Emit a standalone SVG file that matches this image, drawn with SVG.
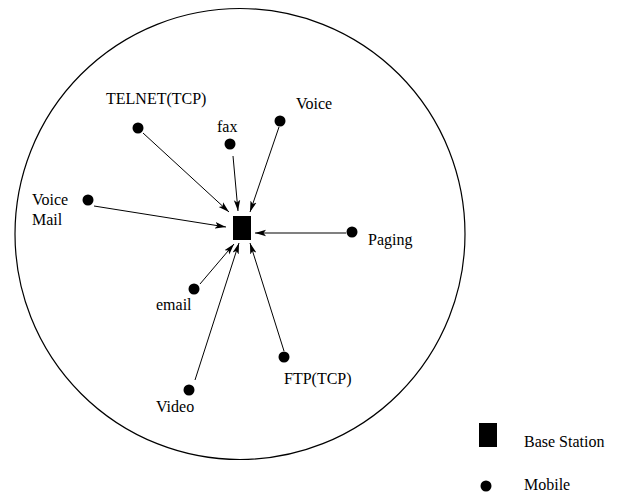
<svg xmlns="http://www.w3.org/2000/svg" width="618" height="495" viewBox="0 0 618 495">
<style>
text{font-family:"Liberation Serif","Times New Roman",serif;font-size:16px;fill:#000}
.c{stroke:#000;stroke-width:1;fill:none}
.g{stroke:#808080;stroke-width:2;fill:none}
.dot{fill:#000}
</style>
<defs>
<marker id="ah" markerUnits="userSpaceOnUse" markerWidth="12" markerHeight="8" refX="11" refY="4" orient="auto">
<path d="M0,0.8 L11,4 L0,7.2 L2.5,4 z" fill="#000"/>
</marker>
</defs>
<rect width="618" height="495" fill="#fff"/>
<ellipse id="cell" cx="240" cy="234" rx="225" ry="225.5" fill="none" stroke="#000" stroke-width="1.2"/>
<g id="connectors">
<line class="c" x1="143" y1="133" x2="229" y2="212" marker-end="url(#ah)"/>
<line class="c" x1="233" y1="156" x2="238" y2="211" marker-end="url(#ah)"/>
<line class="c" x1="279" y1="127" x2="250" y2="212" marker-end="url(#ah)"/>
<line class="c" x1="94" y1="206" x2="226" y2="227" marker-end="url(#ah)"/>
<line class="g" x1="346" y1="233" x2="255" y2="233" marker-end="url(#ah)"/>
<line class="c" x1="200" y1="284" x2="234" y2="244" marker-end="url(#ah)"/>
<line class="c" x1="195" y1="380" x2="239" y2="243" marker-end="url(#ah)"/>
<line class="c" x1="284" y1="351" x2="250" y2="243" marker-end="url(#ah)"/>
</g>
<g id="base-station"><rect x="233" y="216" width="18" height="24" fill="#000"/></g>
<g id="telnet"><circle class="dot" cx="138" cy="128" r="5.5"/><text x="106" y="104">TELNET(TCP)</text></g>
<g id="fax"><circle class="dot" cx="230" cy="144" r="5.5"/><text x="217" y="132">fax</text></g>
<g id="voice"><circle class="dot" cx="280" cy="121" r="5.5"/><text x="296" y="109">Voice</text></g>
<g id="voice-mail"><circle class="dot" cx="88" cy="200" r="5.5"/><text x="32" y="205">Voice</text><text x="32" y="225">Mail</text></g>
<g id="paging"><circle class="dot" cx="352" cy="232" r="5.5"/><text x="368" y="245">Paging</text></g>
<g id="email"><circle class="dot" cx="194" cy="289" r="5.5"/><text x="156" y="310">email</text></g>
<g id="ftp"><circle class="dot" cx="284" cy="357" r="5.5"/><text x="284" y="384">FTP(TCP)</text></g>
<g id="video"><circle class="dot" cx="189" cy="390" r="5.5"/><text x="156" y="412">Video</text></g>
<g id="legend">
<rect x="479" y="423" width="18" height="24" fill="#000"/>
<text x="524" y="447">Base Station</text>
<circle class="dot" cx="486" cy="486" r="5.5"/>
<text x="524" y="490">Mobile</text>
</g>
</svg>
